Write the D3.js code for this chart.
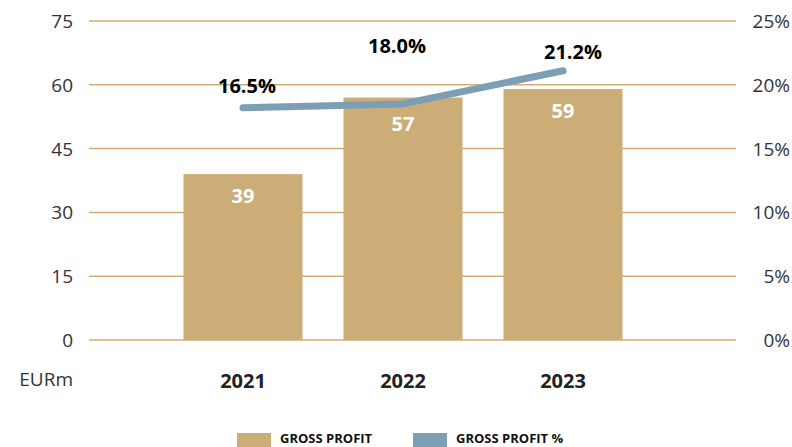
<!doctype html>
<html lang="en">
<head>
    <meta charset="utf-8">
    <script src="https://d3js.org/d3.v7.min.js"></script>
    <style type="text/css">
        body {
            padding: 0;
            margin: 0;
            background: #fff;
        }

        text {
            font-family: "Open Sans", sans-serif;
        }

        .grid line {
            stroke: #cfad72;
            stroke-width: 1.5px;
        }

        .tick-label {
            font-size: 19px;
            fill: #333;
        }
    </style>
</head>
<body>
    <div id="chart"></div>

    <script type="text/javascript">

        // data
        var years = ["2021", "2022", "2023"];
        var grossProfit = [39, 57, 59];
        var grossProfitPct = [18.2, 18.5, 21.1];
        var pctLabels = ["16.5%", "18.0%", "21.2%"];
        var leftTicks = [0, 15, 30, 45, 60, 75];
        var rightTicks = [0, 5, 10, 15, 20, 25];

        var width = 792,
            height = 447;

        var svg = d3.select("#chart").append("svg")
            .attr("width", width)
            .attr("height", height);

        var x = d3.scaleBand()
            .domain(years)
            .range([163, 643])
            .paddingInner(0.256)
            .paddingOuter(0.128);

        var y = d3.scaleLinear()
            .domain([0, 75])
            .range([340, 21]);

        var yPct = d3.scaleLinear()
            .domain([0, 25])
            .range([340, 21]);

        // grid lines
        svg.append("g").attr("class", "grid")
            .selectAll("line")
            .data(leftTicks)
            .enter().append("line")
            .attr("x1", 89)
            .attr("x2", 736)
            .attr("y1", function (d) { return y(d); })
            .attr("y2", function (d) { return y(d); });

        // left axis labels
        svg.append("g")
            .selectAll("text")
            .data(leftTicks)
            .enter().append("text")
            .attr("class", "tick-label")
            .attr("x", 73)
            .attr("y", function (d) { return y(d) + 7; })
            .attr("text-anchor", "end")
            .text(function (d) { return d; });

        svg.append("text")
            .attr("class", "tick-label")
            .attr("x", 73)
            .attr("y", 386)
            .attr("text-anchor", "end")
            .text("EURm");

        // right axis labels
        svg.append("g")
            .selectAll("text")
            .data(rightTicks)
            .enter().append("text")
            .attr("class", "tick-label")
            .attr("x", 790)
            .attr("y", function (d) { return yPct(d) + 7; })
            .attr("text-anchor", "end")
            .text(function (d) { return d + "%"; });

        // bars
        svg.append("g")
            .selectAll("rect")
            .data(grossProfit)
            .enter().append("rect")
            .attr("x", function (d, i) { return x(years[i]); })
            .attr("y", function (d) { return y(d); })
            .attr("width", x.bandwidth())
            .attr("height", function (d) { return y(0) - y(d); })
            .attr("fill", "#ccad78");

        svg.append("g")
            .selectAll("text")
            .data(grossProfit)
            .enter().append("text")
            .attr("x", function (d, i) { return x(years[i]) + x.bandwidth() / 2; })
            .attr("y", function (d, i) { return y(d) + (i == 1 ? 33 : 29); })
            .attr("text-anchor", "middle")
            .attr("fill", "#fff")
            .style("font-size", "20px")
            .style("font-weight", "bold")
            .text(function (d) { return d; });

        // year labels
        svg.append("g")
            .selectAll("text")
            .data(years)
            .enter().append("text")
            .attr("x", function (d) { return x(d) + x.bandwidth() / 2; })
            .attr("y", 388)
            .attr("text-anchor", "middle")
            .attr("fill", "#222")
            .style("font-size", "20px")
            .style("font-weight", "bold")
            .text(function (d) { return d; });

        // percentage line
        var line = d3.line()
            .x(function (d, i) { return x(years[i]) + x.bandwidth() / 2; })
            .y(function (d) { return yPct(d); });

        svg.append("path")
            .datum(grossProfitPct)
            .attr("d", line)
            .attr("fill", "none")
            .attr("stroke", "#7d9fb5")
            .attr("stroke-width", 7)
            .attr("stroke-linecap", "round")
            .attr("stroke-linejoin", "round");

        // label offsets, tuned by eye
        var labelDx = [4, -6, 10];
        var labelDy = [-15, -51, -12];
        svg.append("g")
            .selectAll("text")
            .data(pctLabels)
            .enter().append("text")
            .attr("x", function (d, i) { return x(years[i]) + x.bandwidth() / 2 + labelDx[i]; })
            .attr("y", function (d, i) { return yPct(grossProfitPct[i]) + labelDy[i]; })
            .attr("text-anchor", "middle")
            .attr("fill", "#000")
            .style("font-size", "20px")
            .style("font-weight", "bold")
            .text(function (d) { return d; });

        // legend
        var legend = [
            { name: "GROSS PROFIT", color: "#ccad78", x: 237 },
            { name: "GROSS PROFIT %", color: "#7d9fb5", x: 413 }
        ];
        var lg = svg.append("g").selectAll("g")
            .data(legend)
            .enter().append("g");

        lg.append("rect")
            .attr("x", function (d) { return d.x; })
            .attr("y", 433)
            .attr("width", 34)
            .attr("height", 14)
            .attr("fill", function (d) { return d.color; });

        lg.append("text")
            .attr("x", function (d) { return d.x + 43; })
            .attr("y", 443)
            .attr("fill", "#111")
            .style("font-size", "13px")
            .style("font-weight", "bold")
            .text(function (d) { return d.name; });

    </script>
</body>
</html>
